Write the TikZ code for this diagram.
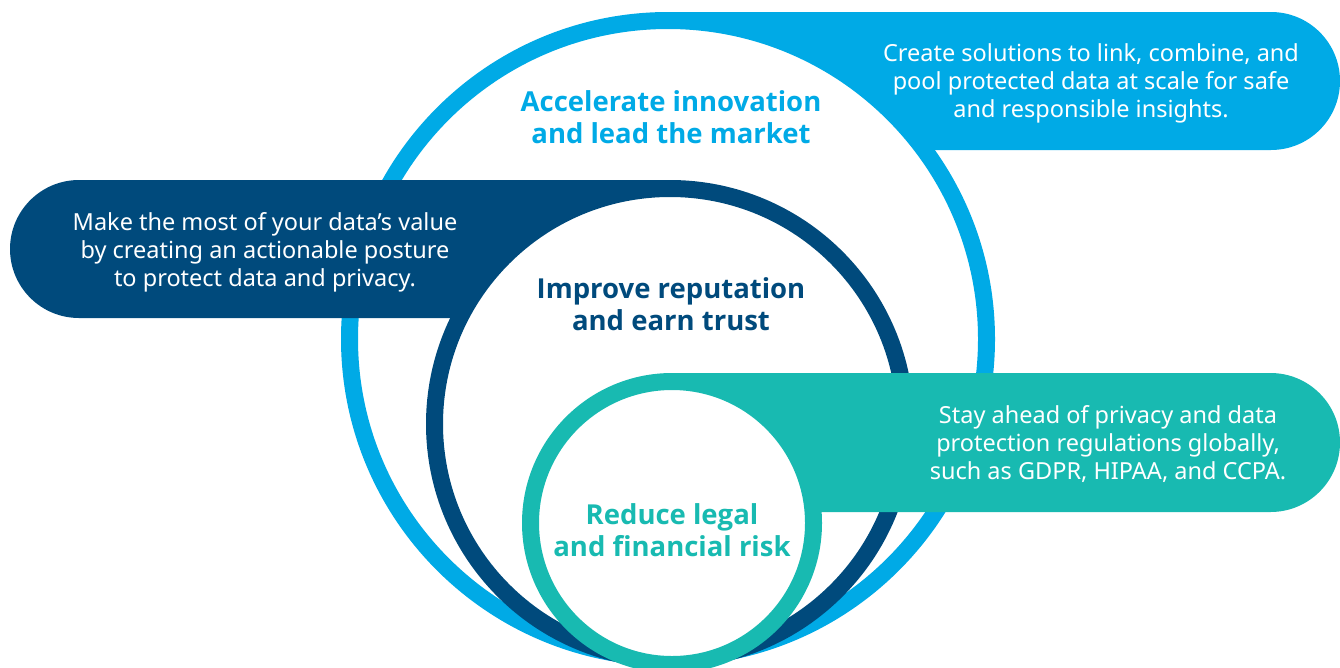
\documentclass[tikz,border=0pt]{standalone}
\usepackage{fontspec}
\setmainfont{Noto Sans}
\newfontfamily\titlefont{Open Sans}
\definecolor{lb}{HTML}{00AAE6}
\definecolor{db}{HTML}{004A7C}
\definecolor{tl}{HTML}{18BAB1}
\tikzset{
  ring/.style={line width=17pt, fill=white},
  titletext/.style={align=center, font=\titlefont\bfseries\fontsize{27.5}{32}\selectfont, inner sep=0pt},
  bantext/.style={align=center, text=white, font=\fontsize{23.5}{28}\selectfont, inner sep=0pt}
}
\begin{document}
\begin{tikzpicture}[x=1pt,y=-1pt]
\useasboundingbox (0,0) rectangle (1340,667);
\clip (0,0) rectangle (1340,667);
% light blue banner and circle
\fill[lb] (668,12) -- (1271,12) arc[start angle=-90, end angle=90, radius=69] -- (668,150) -- cycle;
\draw[ring, draw=lb] (668,339) circle[radius=318.5];
% dark banner and circle
\fill[db] (670,180) -- (79,180) arc[start angle=-90, end angle=-270, radius=69] -- (670,318) -- cycle;
\draw[ring, draw=db] (670,424) circle[radius=235.5];
% teal banner and circle
\fill[tl] (672,373) -- (1270.5,373) arc[start angle=-90, end angle=90, radius=69.5] -- (672,512) -- cycle;
\draw[ring, draw=tl] (672,523) circle[radius=141.5];
% titles
\node[titletext, text=lb] (t1) at (671,117) {Accelerate innovation\\and lead the market};
\node[titletext, text=db] (t2) at (671,304) {Improve reputation\\and earn trust};
\node[titletext, text=tl] (t3) at (672,530) {Reduce legal\\and financial risk};
% banner texts
\node[bantext] (b1) at (1091,83) {Create solutions to link, combine, and\\pool protected data at scale for safe\\and responsible insights.};
\node[bantext] (b2) at (265,252) {Make the most of your data’s value\\by creating an actionable posture\\to protect data and privacy.};
\node[bantext] (b3) at (1108,444) {Stay ahead of privacy and data\\protection regulations globally,\\such as GDPR, HIPAA, and CCPA.};
\end{tikzpicture}
\end{document}
